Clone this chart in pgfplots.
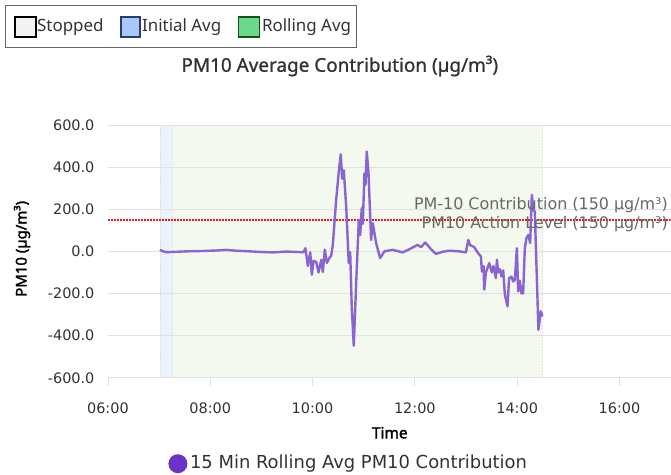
\documentclass[border=0pt]{standalone}
\usepackage{pgfplots}
\pgfplotsset{compat=1.18}
\usepackage{fontspec}
\setmainfont{Noto Sans}
\newfontfamily\dejavu{DejaVu Sans}
\newfontfamily\semib[FakeBold=1.0]{Noto Sans}
\newfontfamily\boldf[FakeBold=2.0]{Noto Sans}
\definecolor{lineP}{RGB}{138,100,210}
\definecolor{dotP}{RGB}{106,50,200}
\definecolor{bandB}{RGB}{232,243,251}
\definecolor{bandG}{RGB}{243,249,238}
\definecolor{gridC}{RGB}{225,225,225}
\definecolor{annC}{RGB}{100,106,100}
\definecolor{txtC}{RGB}{50,50,50}
\definecolor{swS}{RGB}{242,242,242}
\definecolor{swB}{RGB}{168,200,250}
\definecolor{swBd}{RGB}{40,60,110}
\definecolor{swG}{RGB}{108,217,138}
\definecolor{swGd}{RGB}{20,80,30}
\definecolor{redL}{RGB}{240,20,20}
\begin{document}
\begin{tikzpicture}
\begin{axis}[
  set layers,
  at={(108bp,97bp)}, anchor=south west,
  scale only axis, width=563bp, height=253bp,
  xmin=6, xmax=17, ymin=-600, ymax=600,
  axis x line*=bottom, axis y line*=left,
  y axis line style={draw=none},
  x axis line style={draw=gridC, line width=0.8pt},
  xtick={6,8,10,12,14,16},
  xticklabels={06:00,08:00,10:00,12:00,14:00,16:00},
  ytick={-600,-400,...,600},
  tick align=outside,
  major tick length=8bp,
  xtick style={draw=gridC, line width=0.8pt},
  ytick style={draw=none},
  ymajorgrids, grid style={draw=gridC, line width=0.8pt},
  yticklabel style={/pgf/number format/fixed, /pgf/number format/fixed zerofill, /pgf/number format/precision=1},
  /pgf/number format/assume math mode=true,
  tick label style={font=\dejavu\fontsize{14.5}{16}\selectfont, text=txtC},
  xticklabel style={yshift=-14bp},
  yticklabel style={xshift=-2bp},
]
\addplot[fill=bandB, draw=none, on layer=axis background, forget plot] coordinates {(7.015,600) (7.26,600)} \closedcycle;
\addplot[fill=bandB, draw=none, on layer=axis background, forget plot] coordinates {(7.015,-600) (7.26,-600)} \closedcycle;
\addplot[fill=bandG, draw=none, on layer=axis background, forget plot] coordinates {(7.26,600) (14.49,600)} \closedcycle;
\addplot[fill=bandG, draw=none, on layer=axis background, forget plot] coordinates {(7.26,-600) (14.49,-600)} \closedcycle;
\addplot[draw=gridC, densely dotted, line width=0.5pt, on layer=axis background, forget plot] coordinates {(7.015,-600) (7.015,600)};
\addplot[draw=gridC, densely dotted, line width=0.5pt, on layer=axis background, forget plot] coordinates {(7.26,-600) (7.26,600)};
\addplot[draw=gridC, densely dotted, line width=0.5pt, on layer=axis background, forget plot] coordinates {(14.49,-600) (14.49,600)};
\addplot[draw=redL, line width=2.2bp, dash pattern=on 2bp off 1bp, forget plot] coordinates {(6,150) (17,150)};
\addplot[draw=lineP, line width=2.4bp, line join=round, forget plot] coordinates {
(7.015,7) (7.08,0) (7.145,-4) (7.536,0) (7.9,2) (8.121,4) (8.316,7) (8.5,3) (8.771,0) (9.0,-3) (9.226,-5) (9.487,-1) (9.824,-4) (9.86,15)
(9.908,-69) (9.955,-5) (9.986,-111) (10.020,-45) (10.072,-50) (10.117,-100) (10.170,-40) (10.201,-98) (10.240,8) (10.279,-55) (10.332,-30) (10.365,-20) (10.396,30)
(10.462,244) (10.513,378) (10.552,460) (10.579,345) (10.611,385) (10.658,212) (10.708,-56) (10.736,-5) (10.767,-269) (10.806,-448) (10.853,-151)
(10.904,149) (10.931,78) (10.962,205) (10.982,130) (11.015,370) (11.035,315) (11.060,473) (11.093,378) (11.145,54) (11.177,134) (11.243,39) (11.321,-32)
(11.405,0) (11.567,7) (11.762,-5) (11.893,10) (12.055,31) (12.121,20) (12.205,42) (12.316,10) (12.413,-12) (12.543,-2) (12.673,3) (12.868,0) (12.999,-5)
(13.044,54) (13.077,30) (13.161,20) (13.226,-5) (13.292,-25) (13.311,-96) (13.343,-70) (13.356,-182) (13.389,-100) (13.454,-56) (13.506,-100) (13.538,-70)
(13.584,-127) (13.604,-40) (13.629,-100) (13.663,-85) (13.694,-119) (13.727,-90) (13.760,-206) (13.811,-261) (13.844,-127) (13.889,-120) (13.922,-143)
(13.955,-135) (13.994,15) (14.020,-190) (14.053,-140) (14.084,-200) (14.117,-200) (14.150,15) (14.181,62) (14.220,78) (14.254,40) (14.287,268)
(14.318,195) (14.345,190) (14.416,-372) (14.463,-285) (14.494,-309)
};
\node[anchor=east, text=annC, font=\dejavu\fontsize{16}{18}\selectfont, inner sep=0pt] at (axis cs:16.95,218) {PM-10 Contribution (150 µg/m³)};
\node[anchor=east, text=annC, font=\dejavu\fontsize{16}{18}\selectfont, inner sep=0pt] at (axis cs:16.95,128) {PM10 Action Level (150 µg/m³)};
\end{axis}
% titles
\node[font=\semib\fontsize{19}{21}\selectfont, text=txtC] at (340bp,409bp) {PM10 Average Contribution (µg/m³)};
\node[font=\boldf\fontsize{15.5}{17}\selectfont, text=black] at (390bp,42bp) {Time};
\node[font=\boldf\fontsize{15}{17}\selectfont, text=black, rotate=90] at (22bp,226bp) {PM10 (µg/m³)};
% bottom legend
\fill[dotP] (178bp,11bp) circle (9.5bp);
\node[anchor=west, font=\dejavu\fontsize{18}{20}\selectfont, text=txtC, inner sep=0pt] at (190bp,11bp) {15 Min Rolling Avg PM10 Contribution};
% top legend
\draw[gray!80!black, line width=0.8pt] (5bp,428bp) rectangle (357bp,470bp);
\draw[black, line width=1.2pt, fill=swS] (15bp,438bp) rectangle (36bp,458bp);
\node[anchor=west, font=\fontsize{17}{19}\selectfont, text=txtC, inner sep=0pt] at (37bp,448bp) {Stopped};
\draw[swBd, line width=1.2pt, fill=swB] (121bp,438bp) rectangle (140bp,458bp);
\node[anchor=west, font=\fontsize{17}{19}\selectfont, text=txtC, inner sep=0pt] at (142bp,448bp) {Initial Avg};
\draw[swGd, line width=1.2pt, fill=swG] (239bp,438bp) rectangle (260bp,458bp);
\node[anchor=west, font=\fontsize{17}{19}\selectfont, text=txtC, inner sep=0pt] at (262bp,448bp) {Rolling Avg};
\useasboundingbox (0bp,0bp) rectangle (671bp,475bp);
\end{tikzpicture}
\end{document}
